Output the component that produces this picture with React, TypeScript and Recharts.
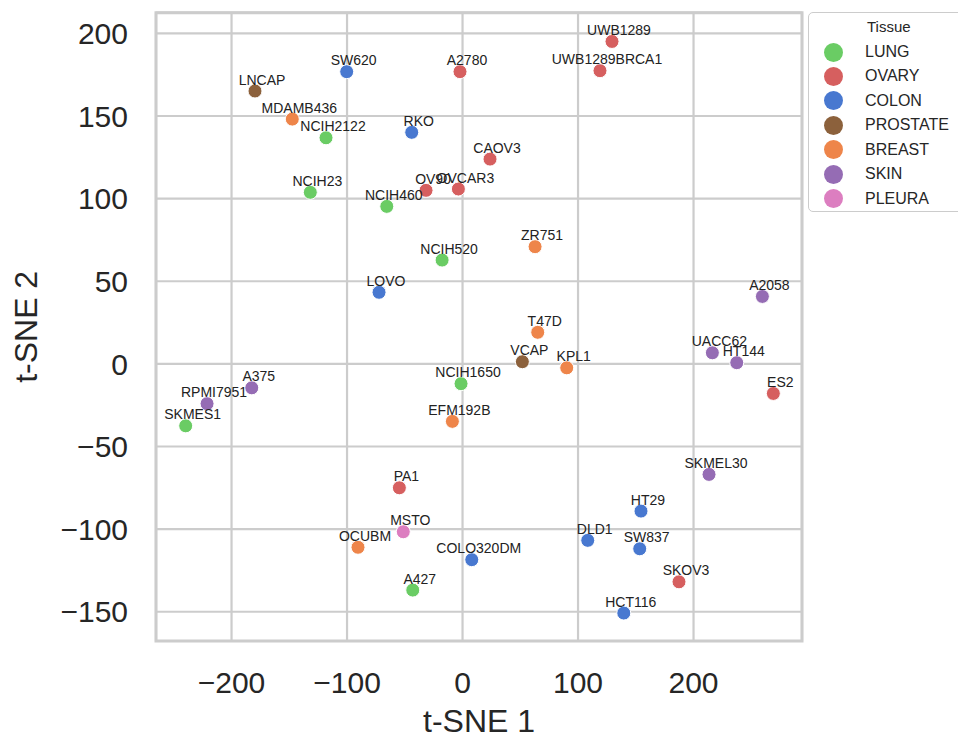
import React from "react";
import { ScatterChart, Scatter, XAxis, YAxis, CartesianGrid, ReferenceArea } from "recharts";

const FONT = "Liberation Sans, Arial, Helvetica, sans-serif";
const TEXT = "#262626";
const GRID = "#cccccc";

const tissues = ["LUNG", "OVARY", "COLON", "PROSTATE", "BREAST", "SKIN", "PLEURA"];
const tissueColors = ["#6acc64", "#d65f5f", "#4878d0", "#8c613c", "#ee854a", "#956cb4", "#dc7ec0"];

// cell lines, their t-SNE coords and tissue
const cellLines = [
  "NCIH2122", "NCIH23", "NCIH460", "NCIH520", "NCIH1650", "SKMES1", "A427",
  "A2780", "UWB1289", "UWB1289BRCA1", "CAOV3", "OV90", "OVCAR3", "ES2", "PA1", "SKOV3",
  "SW620", "RKO", "LOVO", "COLO320DM", "HT29", "DLD1", "SW837", "HCT116",
  "LNCAP", "VCAP",
  "MDAMB436", "ZR751", "T47D", "KPL1", "EFM192B", "OCUBM",
  "A375", "RPMI7951", "A2058", "UACC62", "HT144", "SKMEL30",
  "MSTO",
];
const tsne1 = [
  -118.2, -131.8, -65.6, -17.7, -1.3, -239.7, -43.1,
  -2.2, 129.4, 119.0, 23.8, -31.6, -3.6, 269.1, -54.7, 187.4,
  -100.3, -44.0, -72.3, 8.0, 154.5, 108.4, 153.4, 139.6,
  -179.7, 51.8,
  -147.4, 62.8, 65.1, 90.2, -8.8, -90.5,
  -182.5, -221.2, 259.6, 216.3, 237.4, 213.4,
  -51.3,
];
const tsne2 = [
  136.8, 103.8, 95.3, 62.8, -12.0, -37.5, -136.9,
  176.8, 195.1, 177.4, 123.9, 105.0, 105.8, -17.9, -75.0, -131.9,
  176.8, 140.1, 43.3, -118.5, -89.1, -106.8, -111.9, -150.8,
  165.1, 1.3,
  148.1, 70.9, 19.1, -2.4, -34.8, -111.0,
  -14.5, -24.1, 40.8, 6.7, 0.7, -66.9,
  -101.6,
];
const tissueOf = [
  "LUNG", "LUNG", "LUNG", "LUNG", "LUNG", "LUNG", "LUNG",
  "OVARY", "OVARY", "OVARY", "OVARY", "OVARY", "OVARY", "OVARY", "OVARY", "OVARY",
  "COLON", "COLON", "COLON", "COLON", "COLON", "COLON", "COLON", "COLON",
  "PROSTATE", "PROSTATE",
  "BREAST", "BREAST", "BREAST", "BREAST", "BREAST", "BREAST",
  "SKIN", "SKIN", "SKIN", "SKIN", "SKIN", "SKIN",
  "PLEURA",
];

const xTicks = [-200, -100, 0, 100, 200];
const yTicks = [-150, -100, -50, 0, 50, 100, 150, 200];
const X_MIN = -265.4;
const X_MAX = 293.9;
const Y_MIN = -167.7;
const Y_MAX = 212.5;

const points = cellLines.map((name, i) => ({
  name,
  x: tsne1[i],
  y: tsne2[i],
  tissue: tissueOf[i],
}));

const minus = (v: number) => String(v).replace("-", "\u2212");

const Dot = (props: any) => (
  <circle cx={props.cx} cy={props.cy} r={7} fill={props.fill} stroke="#ffffff" strokeWidth={1} />
);

const NameLabel = (props: any) => (
  <text
    x={props.cx + 7}
    y={props.cy - 6.5}
    textAnchor="middle"
    fontSize={14}
    fontFamily={FONT}
    fill="#222222"
  >
    {props.payload.name}
  </text>
);

function TissueLegend() {
  return (
    <div
      style={{
        position: "absolute",
        left: 808,
        top: 12,
        width: 170,
        height: 200,
        border: `1.5px solid ${GRID}`,
        borderRadius: 5,
        background: "#fff",
        fontFamily: FONT,
        color: TEXT,
        boxSizing: "border-box",
      }}
    >
      <div style={{ position: "absolute", left: 58, top: 5, fontSize: 15, lineHeight: "18px" }}>Tissue</div>
      {tissues.map((t, i) => (
        <div
          key={t}
          style={{ position: "absolute", left: 0, top: 27 + i * 24.45, height: 24, width: 170 }}
        >
          <div
            style={{
              position: "absolute",
              left: 15,
              top: 2.5,
              width: 19,
              height: 19,
              borderRadius: "50%",
              background: tissueColors[i],
            }}
          />
          <div style={{ position: "absolute", left: 56, top: 0, fontSize: 16, lineHeight: "24px" }}>{t}</div>
        </div>
      ))}
    </div>
  );
}

export default function App() {
  const tickStyle = { fill: TEXT, fontSize: 30, fontFamily: FONT };
  return (
    <div style={{ position: "absolute", left: 0, top: 0, width: 958, height: 738, overflow: "hidden", background: "#fff" }}>
      <ScatterChart width={958} height={738} margin={{ top: 12.7, right: 156, bottom: 0, left: 0 }}>
        <CartesianGrid stroke={GRID} strokeWidth={2.2} />
        <XAxis
          type="number"
          dataKey="x"
          domain={[X_MIN, X_MAX]}
          allowDataOverflow
          ticks={xTicks}
          interval={0}
          height={97}
          axisLine={false}
          tickLine={false}
          tickSize={0}
          tickMargin={31}
          tick={tickStyle}
          tickFormatter={minus}
          label={{ value: "t-SNE 1", position: "insideBottom", offset: 6, fill: TEXT, fontSize: 32, fontFamily: FONT }}
        />
        <YAxis
          type="number"
          dataKey="y"
          domain={[Y_MIN, Y_MAX]}
          allowDataOverflow
          ticks={yTicks}
          interval={0}
          width={156}
          axisLine={false}
          tickLine={false}
          tickSize={0}
          tickMargin={28}
          tick={tickStyle}
          tickFormatter={minus}
          label={{
            value: "t-SNE 2",
            angle: -90,
            position: "insideLeft",
            offset: 26,
            fill: TEXT,
            fontSize: 32,
            fontFamily: FONT,
            style: { textAnchor: "middle" },
          }}
        />
        <ReferenceArea
          x1={X_MIN}
          x2={X_MAX}
          y1={Y_MIN}
          y2={Y_MAX}
          fill="none"
          fillOpacity={0}
          stroke={GRID}
          strokeWidth={3}
          ifOverflow="visible"
        />
        {tissues.map((t, i) => (
          <Scatter
            key={t}
            name={t}
            data={points.filter((p) => p.tissue === t)}
            fill={tissueColors[i]}
            shape={Dot}
            isAnimationActive={false}
          />
        ))}
        <Scatter data={points} shape={NameLabel} legendType="none" isAnimationActive={false} />
      </ScatterChart>
      <TissueLegend />
    </div>
  );
}
